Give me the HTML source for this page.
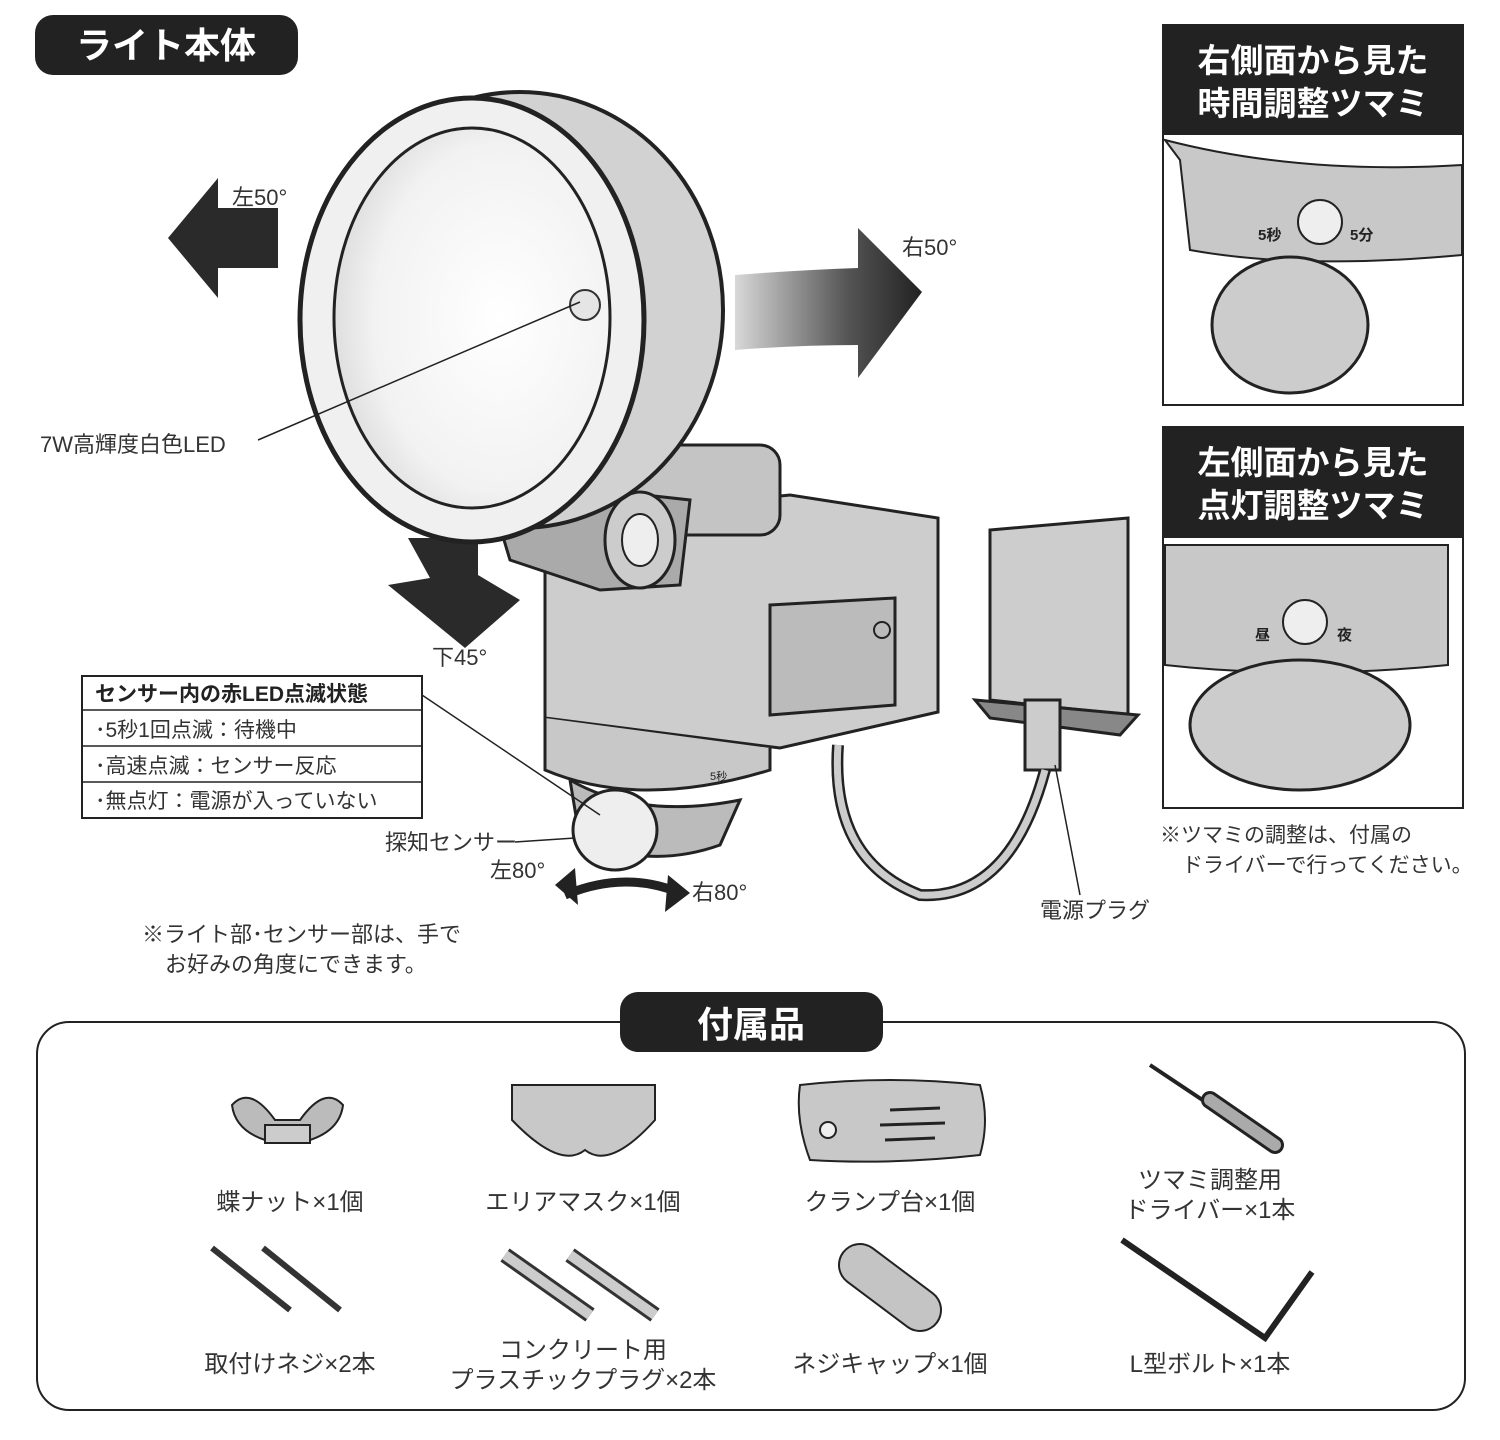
<!DOCTYPE html>
<html><head><meta charset="utf-8"><style>
body{margin:0;background:#fff;}
svg text{font-family:"Liberation Sans","Noto Sans CJK JP",sans-serif;}
</style></head><body>
<svg width="1500" height="1435" viewBox="0 0 1500 1435" xmlns="http://www.w3.org/2000/svg">
<defs>
<linearGradient id="ga" x1="0" x2="1"><stop offset="0" stop-color="#d8d8d8"/><stop offset="0.6" stop-color="#555"/><stop offset="1" stop-color="#222"/></linearGradient>
<radialGradient id="gl" cx="0.6" cy="0.5" r="0.65"><stop offset="0" stop-color="#fff"/><stop offset="0.7" stop-color="#f2f2f2"/><stop offset="1" stop-color="#d8d8d8"/></radialGradient>
</defs>
<rect x="35" y="15" width="263" height="60" rx="18" fill="#222"/>
<text x="166" y="58" font-size="36" font-weight="bold" fill="#fff" text-anchor="middle">ライト本体</text>

<polygon points="278,208 218,208 218,178 168,238 218,298 218,268 278,268" fill="#2a2a2a"/>
<text x="232" y="205" font-size="22" fill="#333">左50°</text>
<path d="M735,275 Q800,270 858,268 L858,228 L922,292 L858,378 L858,345 Q800,345 735,350 Z" fill="url(#ga)"/>
<text x="902" y="255" font-size="22" fill="#333">右50°</text>
<polygon points="408,538 478,538 478,575 520,600 465,648 388,585 430,578 408,538" fill="#2a2a2a"/>
<text x="432" y="665" font-size="22" fill="#333">下45°</text>

<path d="M545,520 L790,495 L938,518 L938,712 L780,748 L545,718 Z" fill="#cdcdcd" stroke="#222" stroke-width="3"/>
<path d="M770,605 L895,598 L895,705 L770,715 Z" fill="#bbb" stroke="#222" stroke-width="3"/>
<circle cx="882" cy="630" r="8" fill="none" stroke="#222" stroke-width="2"/>
<path d="M545,718 L545,770 Q640,810 770,770 L770,748" fill="#c8c8c8" stroke="#222" stroke-width="3"/>
<path d="M570,780 Q640,820 740,800 L720,845 Q650,870 580,840 Z" fill="#bbb" stroke="#222" stroke-width="3"/>
<ellipse cx="615" cy="830" rx="42" ry="40" fill="#eee" stroke="#222" stroke-width="3"/>
<text x="710" y="780" font-size="11" fill="#222">5秒</text>
<rect x="610" y="445" width="170" height="90" rx="20" fill="#c4c4c4" stroke="#222" stroke-width="3"/>
<path d="M495,510 L600,490 L690,500 L680,585 L600,590 L510,560 Z" fill="#aaa" stroke="#222" stroke-width="3"/>
<ellipse cx="640" cy="540" rx="35" ry="48" fill="#ccc" stroke="#222" stroke-width="3"/>
<ellipse cx="640" cy="540" rx="18" ry="26" fill="#eee" stroke="#222" stroke-width="2"/>
<ellipse cx="520" cy="310" rx="203" ry="218" fill="#d2d2d2" stroke="#222" stroke-width="4"/>
<ellipse cx="472" cy="320" rx="172" ry="222" fill="#f0f0f0" stroke="#222" stroke-width="5"/>
<ellipse cx="472" cy="318" rx="138" ry="190" fill="url(#gl)" stroke="#222" stroke-width="3"/>
<circle cx="585" cy="305" r="15" fill="#e5e5e5" stroke="#333" stroke-width="2"/>
<line x1="580" y1="302" x2="258" y2="440" stroke="#222" stroke-width="1.5"/>
<text x="40" y="452" font-size="22" fill="#333">7W高輝度白色LED</text>

<path d="M990,530 L1128,518 L1128,715 L990,700 Z" fill="#cdcdcd" stroke="#222" stroke-width="3"/>
<path d="M975,700 L1138,715 L1120,735 L990,718 Z" fill="#888" stroke="#222" stroke-width="3"/>
<rect x="1025" y="700" width="35" height="70" fill="#ccc" stroke="#222" stroke-width="3"/>
<path d="M838,745 Q830,860 920,895 Q1010,900 1045,770" fill="none" stroke="#222" stroke-width="12"/>
<path d="M838,745 Q830,860 920,895 Q1010,900 1045,770" fill="none" stroke="#ccc" stroke-width="7"/>
<line x1="1055" y1="765" x2="1080" y2="895" stroke="#222" stroke-width="1.5"/>
<text x="1040" y="918" font-size="22" fill="#333">電源プラグ</text>

<rect x="82" y="676" width="340" height="142" fill="#fff" stroke="#222" stroke-width="2"/>
<line x1="82" y1="710" x2="422" y2="710" stroke="#222" stroke-width="1.5"/>
<line x1="82" y1="746" x2="422" y2="746" stroke="#222" stroke-width="1.5"/>
<line x1="82" y1="782" x2="422" y2="782" stroke="#222" stroke-width="1.5"/>
<text x="95" y="701" font-size="21" font-weight="bold" fill="#222">センサー内の赤LED点滅状態</text>
<text x="95" y="737" font-size="21" fill="#333">･5秒1回点滅：待機中</text>
<text x="95" y="773" font-size="21" fill="#333">･高速点滅：センサー反応</text>
<text x="95" y="808" font-size="21" fill="#333">･無点灯：電源が入っていない</text>
<line x1="422" y1="695" x2="600" y2="815" stroke="#222" stroke-width="1.5"/>
<text x="385" y="850" font-size="22" fill="#333">探知センサー</text>
<line x1="515" y1="842" x2="575" y2="838" stroke="#222" stroke-width="1.5"/>
<text x="490" y="878" font-size="22" fill="#333">左80°</text>
<path d="M565,895 Q625,870 680,893" fill="none" stroke="#222" stroke-width="9"/>
<polygon points="555,885 575,868 578,905" fill="#222"/>
<polygon points="690,893 668,875 665,912" fill="#222"/>
<text x="692" y="900" font-size="22" fill="#333">右80°</text>
<text x="142" y="942" font-size="22" fill="#333">※ライト部･センサー部は、手で</text>
<text x="165" y="972" font-size="22" fill="#333">お好みの角度にできます。</text>

<rect x="1163" y="25" width="300" height="380" fill="#fff" stroke="#222" stroke-width="2"/>
<rect x="1163" y="25" width="300" height="110" fill="#222"/>
<text x="1313" y="72" font-size="33" font-weight="bold" fill="#fff" text-anchor="middle">右側面から見た</text>
<text x="1313" y="115" font-size="33" font-weight="bold" fill="#fff" text-anchor="middle">時間調整ツマミ</text>
<path d="M1165,140 Q1300,175 1462,165 L1462,255 Q1300,270 1190,250 L1180,160 Z" fill="#c8c8c8" stroke="#222" stroke-width="2"/>
<circle cx="1320" cy="222" r="22" fill="#eee" stroke="#222" stroke-width="2"/>
<text x="1258" y="240" font-size="15" font-weight="bold" fill="#222">5秒</text>
<text x="1350" y="240" font-size="15" font-weight="bold" fill="#222">5分</text>
<ellipse cx="1290" cy="325" rx="78" ry="68" fill="#ccc" stroke="#222" stroke-width="3"/>

<rect x="1163" y="427" width="300" height="381" fill="#fff" stroke="#222" stroke-width="2"/>
<rect x="1163" y="427" width="300" height="111" fill="#222"/>
<text x="1313" y="474" font-size="33" font-weight="bold" fill="#fff" text-anchor="middle">左側面から見た</text>
<text x="1313" y="517" font-size="33" font-weight="bold" fill="#fff" text-anchor="middle">点灯調整ツマミ</text>
<path d="M1165,545 L1448,545 L1448,665 Q1300,680 1165,665 Z" fill="#c8c8c8" stroke="#222" stroke-width="2"/>
<circle cx="1305" cy="622" r="22" fill="#eee" stroke="#222" stroke-width="2"/>
<text x="1255" y="640" font-size="15" font-weight="bold" fill="#222">昼</text>
<text x="1337" y="640" font-size="15" font-weight="bold" fill="#222">夜</text>
<ellipse cx="1300" cy="725" rx="110" ry="65" fill="#ccc" stroke="#222" stroke-width="3"/>
<text x="1160" y="842" font-size="21" fill="#333">※ツマミの調整は、付属の</text>
<text x="1182" y="872" font-size="21" fill="#333">ドライバーで行ってください。</text>

<rect x="37" y="1022" width="1428" height="388" rx="32" fill="#fff" stroke="#222" stroke-width="2"/>
<rect x="620" y="992" width="263" height="60" rx="18" fill="#222"/>
<text x="751" y="1037" font-size="36" font-weight="bold" fill="#fff" text-anchor="middle">付属品</text>

<path d="M232,1105 Q250,1085 275,1120 L300,1120 Q325,1085 343,1105 Q340,1130 310,1140 L265,1140 Q235,1130 232,1105Z" fill="#bbb" stroke="#222" stroke-width="2"/>
<rect x="265" y="1125" width="45" height="18" fill="#ccc" stroke="#222" stroke-width="2"/>
<text x="290" y="1210" font-size="24" fill="#333" text-anchor="middle">蝶ナット×1個</text>

<path d="M512,1085 L655,1085 L655,1120 Q610,1170 585,1150 Q560,1170 512,1120Z" fill="#c8c8c8" stroke="#222" stroke-width="2"/>
<text x="583" y="1210" font-size="24" fill="#333" text-anchor="middle">エリアマスク×1個</text>

<path d="M800,1085 Q890,1075 980,1085 Q990,1120 980,1155 Q890,1165 810,1160 Q795,1120 800,1085Z" fill="#c8c8c8" stroke="#222" stroke-width="2"/>
<circle cx="828" cy="1130" r="8" fill="#eee" stroke="#222" stroke-width="2"/>
<line x1="890" y1="1110" x2="940" y2="1108" stroke="#222" stroke-width="3"/>
<line x1="880" y1="1125" x2="945" y2="1123" stroke="#222" stroke-width="3"/>
<line x1="885" y1="1140" x2="935" y2="1138" stroke="#222" stroke-width="3"/>
<text x="890" y="1210" font-size="24" fill="#333" text-anchor="middle">クランプ台×1個</text>

<line x1="1150" y1="1065" x2="1210" y2="1105" stroke="#222" stroke-width="4"/>
<line x1="1210" y1="1100" x2="1275" y2="1145" stroke="#222" stroke-width="18" stroke-linecap="round"/>
<line x1="1210" y1="1100" x2="1275" y2="1145" stroke="#aaa" stroke-width="12" stroke-linecap="round"/>
<text x="1210" y="1188" font-size="24" fill="#333" text-anchor="middle">ツマミ調整用</text>
<text x="1210" y="1218" font-size="24" fill="#333" text-anchor="middle">ドライバー×1本</text>

<line x1="212" y1="1248" x2="290" y2="1310" stroke="#333" stroke-width="6"/>
<line x1="263" y1="1248" x2="340" y2="1310" stroke="#333" stroke-width="6"/>
<text x="290" y="1372" font-size="24" fill="#333" text-anchor="middle">取付けネジ×2本</text>

<line x1="505" y1="1255" x2="590" y2="1315" stroke="#333" stroke-width="16"/>
<line x1="505" y1="1255" x2="590" y2="1315" stroke="#ccc" stroke-width="10"/>
<line x1="570" y1="1255" x2="655" y2="1315" stroke="#333" stroke-width="16"/>
<line x1="570" y1="1255" x2="655" y2="1315" stroke="#ccc" stroke-width="10"/>
<text x="583" y="1358" font-size="24" fill="#333" text-anchor="middle">コンクリート用</text>
<text x="583" y="1388" font-size="24" fill="#333" text-anchor="middle">プラスチックプラグ×2本</text>

<line x1="860" y1="1265" x2="920" y2="1310" stroke="#222" stroke-width="44" stroke-linecap="round"/>
<line x1="860" y1="1265" x2="920" y2="1310" stroke="#c4c4c4" stroke-width="40" stroke-linecap="round"/>
<text x="890" y="1372" font-size="24" fill="#333" text-anchor="middle">ネジキャップ×1個</text>

<polyline points="1122,1240 1265,1338 1312,1272" fill="none" stroke="#222" stroke-width="6"/>
<text x="1210" y="1372" font-size="24" fill="#333" text-anchor="middle">L型ボルト×1本</text>
</svg>
</body></html>
